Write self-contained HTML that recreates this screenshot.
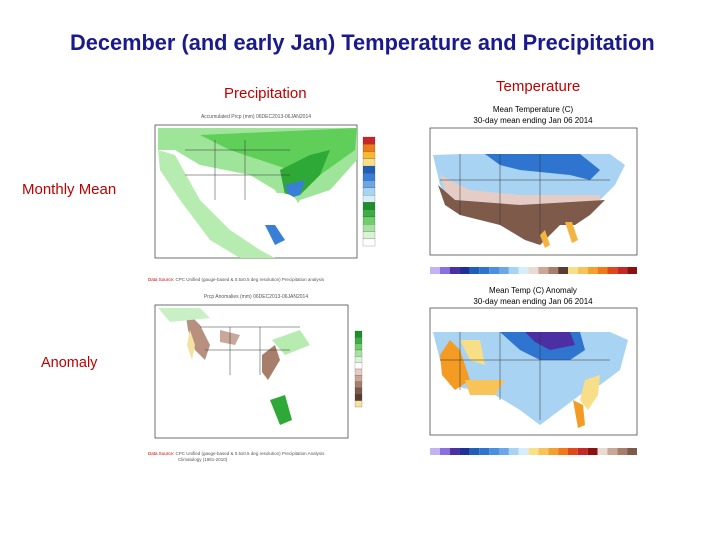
<!DOCTYPE html>
<html><head><meta charset="utf-8"><style>
body{margin:0;background:#fff;}
#page{position:relative;width:720px;height:540px;overflow:hidden;background:#fff;font-family:"Liberation Sans",sans-serif;}
.t{position:absolute;white-space:nowrap;}
</style></head><body>
<div id="page">
<div class="t" style="left:70px;top:30px;font-size:21.8px;font-weight:bold;color:#1a1a8c;">December (and early Jan) Temperature and Precipitation</div>
<div class="t" style="left:224px;top:85px;font-size:15px;color:#c00000;">Precipitation</div>
<div class="t" style="left:496px;top:78px;font-size:15px;color:#c00000;">Temperature</div>
<div class="t" style="left:22px;top:181px;font-size:15px;color:#c00000;">Monthly Mean</div>
<div class="t" style="left:41px;top:355px;font-size:14.5px;color:#c00000;">Anomaly</div>
<svg id="maps" width="720" height="540" style="position:absolute;left:0;top:0">
<g>
<text x="256" y="118" font-size="5" text-anchor="middle" fill="#555">Accumulated Prcp (mm) 06DEC2013-06JAN2014</text>
<rect x="155" y="125" width="202" height="133" fill="#fff" stroke="#333" stroke-width="0.7"/>
<path d="M158 128 L357 128 L357 160 L330 190 L300 200 L290 215 L275 190 L250 175 L200 165 L175 150 L158 150Z" fill="#9ee59a"/>
<path d="M200 135 L357 128 L355 150 L320 175 L300 180 L290 170 L260 160 L230 150 Z" fill="#5fcf5a"/>
<path d="M280 170 L310 155 L330 150 L320 175 L300 195 L285 195Z" fill="#2ea836"/>
<path d="M285 185 L305 180 L300 195 L290 198Z" fill="#3a7fd6"/>
<path d="M158 150 L175 155 L200 200 L230 230 L260 250 L275 258 L240 258 L210 240 L180 200 L160 170Z" fill="#b6ecb0"/>
<path d="M265 225 L275 225 L285 240 L275 245Z" fill="#3a7fd6"/>
<ellipse cx="280" cy="205" rx="18" ry="12" fill="#fff"/>
<path d="M185 150 L290 150 M185 175 L290 175 M215 140 L215 200 M245 140 L245 200" stroke="#333" stroke-width="0.5" fill="none"/>
</g>
<g>
<text x="256" y="298" font-size="5" text-anchor="middle" fill="#555">Prcp Anomalies (mm) 06DEC2013-06JAN2014</text>
<rect x="155" y="305" width="193" height="133" fill="#fff" stroke="#333" stroke-width="0.7"/>
<path d="M185 310 L200 325 L210 345 L205 360 L195 350 L188 330Z" fill="#b89080"/>
<path d="M190 330 L195 345 L192 360 L187 345Z" fill="#f3e2a0"/>
<path d="M220 330 L240 335 L235 345 L220 342Z" fill="#c9a89a"/>
<path d="M262 355 L275 345 L280 360 L268 380 L262 372Z" fill="#a77e6a"/>
<path d="M272 340 L300 330 L310 345 L285 355Z" fill="#b6ecb0"/>
<path d="M270 400 L285 395 L292 420 L280 425Z" fill="#2ea836"/>
<path d="M158 308 L200 308 L210 318 L170 322Z" fill="#c9f0c4"/>
<path d="M200 327 L300 327 M205 350 L290 350 M230 327 L230 375 M260 327 L260 375" stroke="#333" stroke-width="0.5" fill="none"/>
</g>
<g>
<text x="533" y="112" font-size="8" text-anchor="middle" fill="#000">Mean Temperature (C)</text>
<text x="533" y="123" font-size="8" text-anchor="middle" fill="#000">30-day mean ending Jan 06 2014</text>
<rect x="430" y="128" width="207" height="127" fill="#fff" stroke="#333" stroke-width="0.7"/>
<path d="M433 155 L462 154 L610 154 L625 165 L615 185 L600 200 L590 205 L450 200 L440 185Z" fill="#a9d3f2"/>
<path d="M485 154 L580 154 L600 170 L590 180 L570 175 L520 170 L500 165Z" fill="#2f74cf"/>
<path d="M440 175 L470 190 L520 195 L600 195 L600 205 L450 205Z" fill="#e5ccc4"/>
<path d="M438 185 L455 200 L520 205 L605 200 L590 215 L575 225 L560 225 L540 245 L525 240 L500 225 L460 215 L445 205Z" fill="#7d5a4a"/>
<path d="M540 235 L545 230 L550 245 L545 248Z" fill="#f4b540"/>
<path d="M565 222 L572 222 L578 240 L572 243Z" fill="#f4b540"/>
<path d="M460 154 L460 215 M500 154 L500 225 M540 154 L540 235 M440 180 L610 180" stroke="#333" stroke-width="0.5" fill="none"/>
</g>
<g>
<text x="533" y="293" font-size="8" text-anchor="middle" fill="#000">Mean Temp (C) Anomaly</text>
<text x="533" y="304" font-size="8" text-anchor="middle" fill="#000">30-day mean ending Jan 06 2014</text>
<rect x="430" y="308" width="207" height="127" fill="#fff" stroke="#333" stroke-width="0.7"/>
<path d="M433 332 L610 332 L628 340 L620 370 L600 385 L580 395 L560 410 L540 425 L520 410 L495 395 L450 385 L440 360Z" fill="#a9d3f2"/>
<path d="M500 332 L580 332 L585 350 L570 360 L540 360 L520 350Z" fill="#2f74cf"/>
<path d="M525 332 L570 332 L575 345 L550 350 L535 342Z" fill="#4b2fa3"/>
<path d="M440 355 L450 340 L460 350 L470 380 L455 390 L442 375Z" fill="#f39b23"/>
<path d="M460 340 L480 340 L485 365 L470 360Z" fill="#f8de86"/>
<path d="M465 380 L505 380 L495 395 L470 395Z" fill="#f8c45a"/>
<path d="M585 380 L600 375 L598 395 L588 410 L580 400Z" fill="#f8de86"/>
<path d="M573 400 L583 405 L585 425 L578 428Z" fill="#f39b23"/>
<path d="M460 332 L460 390 M500 332 L500 400 M540 332 L540 420 M440 360 L610 360" stroke="#333" stroke-width="0.5" fill="none"/>
</g>
<g id="bars"></g>
<text x="148" y="281" font-size="4.5" fill="#555"><tspan fill="#c00">Data Source:</tspan> CPC Unified (gauge-based &amp; 0.5x0.5 deg resolution) Precipitation analysis</text>
<text x="148" y="455" font-size="4.5" fill="#555"><tspan fill="#c00">Data Source:</tspan> CPC Unified (gauge-based &amp; 0.5x0.5 deg resolution) Precipitation Analysis</text>
<text x="178" y="461" font-size="4.5" fill="#555">Climatology (1981-2010)</text>
</svg>
</div>
<script>
const precipMeanColors=['#c62828','#f07a18','#f8b830','#f7e08a','#1f5fb8','#3a7fd6','#6aa6e8','#a9d3f2','#d6eefa','#1f8f2a','#3cae45','#6fcd6a','#a6e3a0','#d8f4d4','#ffffff'];
const precipAnomColors=['#1f8f2a','#3cae45','#6fcd6a','#a6e3a0','#d8f4d4','#ffffff','#e5ccc4','#c9a89a','#a77e6a','#7d5a4a','#5a3c30','#f3e2a0'];
const tempMeanColors=['#c2b4f2','#8a6fe0','#4b2fa3','#1f2f9a','#1f5fb8','#2f74cf','#4a8fe0','#6aa6e8','#a9d3f2','#d6eefa','#eadad4','#c9a89a','#a77e6a','#5a3c30','#f8e08a','#f8c45a','#f4a030','#f07a18','#e04818','#c62828','#8c1010'];
const tempAnomColors=['#c2b4f2','#8a6fe0','#4b2fa3','#1f2f9a','#1f5fb8','#2f74cf','#4a8fe0','#6aa6e8','#a9d3f2','#d6eefa','#f8e08a','#f8c45a','#f4a030','#f07a18','#e04818','#c62828','#8c1010','#eadad4','#c9a89a','#a77e6a','#7d5a4a'];
const NS='http://www.w3.org/2000/svg';
const g=document.getElementById('bars');
function vbar(cols,x,y0,h,w,name){const s=h/cols.length;cols.forEach((c,i)=>{const r=document.createElementNS(NS,'rect');r.setAttribute('x',x);r.setAttribute('y',y0+i*s);r.setAttribute('width',w);r.setAttribute('height',s);r.setAttribute('fill',c);r.setAttribute('stroke','#333');r.setAttribute('stroke-width','0.2');


g.appendChild(r);});}
function hbar(cols,x0,y,w,h,name){const s=w/cols.length;cols.forEach((c,i)=>{const r=document.createElementNS(NS,'rect');r.setAttribute('x',x0+i*s);r.setAttribute('y',y);r.setAttribute('width',s);r.setAttribute('height',h);r.setAttribute('fill',c);


g.appendChild(r);});}
vbar(precipMeanColors,363,137,109,12,'precip-mean-colorbar-cell');
vbar(precipAnomColors,355,331,76,7,'precip-anomaly-colorbar-cell');
hbar(tempMeanColors,430,267,207,7,'temp-mean-colorbar-cell');
hbar(tempAnomColors,430,448,207,7,'temp-anomaly-colorbar-cell');
</script>
</body></html>
